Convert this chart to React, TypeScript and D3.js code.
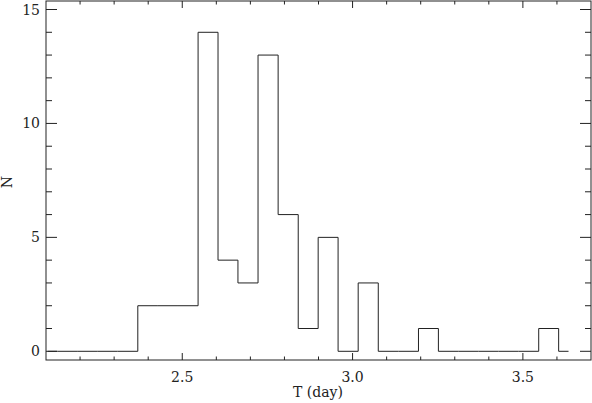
import React, { useRef, useEffect } from 'react';
import * as d3 from 'd3';

// bin centres (T, day) and counts
const binCenters = [
  2.105, 2.164, 2.223, 2.281, 2.340, 2.399, 2.458, 2.517, 2.576, 2.634,
  2.693, 2.752, 2.811, 2.870, 2.928, 2.987, 3.046, 3.105, 3.164, 3.223,
  3.281, 3.340, 3.399, 3.458, 3.517, 3.576, 3.634,
];
const counts = [
  0, 0, 0, 0, 0, 2, 2, 2, 14, 4,
  3, 13, 6, 1, 5, 0, 3, 0, 0, 1,
  0, 0, 0, 0, 0, 1, 0,
];
const xMajor = [2.5, 3.0, 3.5];
const yMajor = [0, 5, 10, 15];

const W = 592;
const H = 403;
const margin = { left: 46, right: 1, top: 1, bottom: 43 };
const ink = '#222';
const font = '"DejaVu Serif", serif';

const App = () => {
  const svgRef = useRef(null);

  useEffect(() => {
    const svg = d3.select(svgRef.current);
    svg.selectAll('*').remove();

    const x = d3.scaleLinear().domain([2.1, 3.7]).range([margin.left, W - margin.right]);
    const y = d3.scaleLinear().domain([0, 15]).range([351.3, 9.5]);
    const x0 = margin.left, x1 = W - margin.right;
    const y0 = H - margin.bottom, y1 = margin.top;

    // histogram steps (pgbin style: half bins at both ends)
    const pts = [];
    pts.push([x(binCenters[0]), y(counts[0])]);
    for (let i = 1; i < binCenters.length; i++) {
      const edge = x((binCenters[i - 1] + binCenters[i]) / 2);
      pts.push([edge, y(counts[i - 1])]);
      pts.push([edge, y(counts[i])]);
    }
    pts.push([x(binCenters[binCenters.length - 1]), y(counts[counts.length - 1])]);

    svg.append('path')
      .attr('d', d3.line()(pts))
      .attr('fill', 'none')
      .attr('stroke', ink)
      .attr('stroke-width', 1);

    // frame
    svg.append('rect')
      .attr('x', x0).attr('y', y1)
      .attr('width', x1 - x0).attr('height', y0 - y1)
      .attr('fill', 'none').attr('stroke', ink).attr('stroke-width', 1);

    const ticks = svg.append('g').attr('stroke', ink).attr('stroke-width', 1);

    // x ticks, bottom and top
    const xMinor = d3.range(22, 37).map(d => d / 10);
    xMinor.forEach(t => {
      const major = xMajor.some(m => Math.abs(m - t) < 1e-6);
      const len = major ? 7 : 3.5;
      const px = x(t);
      ticks.append('line').attr('x1', px).attr('x2', px).attr('y1', y0).attr('y2', y0 - len);
      ticks.append('line').attr('x1', px).attr('x2', px).attr('y1', y1).attr('y2', y1 + len);
    });

    // y ticks, left and right
    d3.range(0, 16).forEach(t => {
      const major = yMajor.includes(t);
      const len = major ? 11 : 6;
      const py = y(t);
      ticks.append('line').attr('x1', x0).attr('x2', x0 + len).attr('y1', py).attr('y2', py);
      ticks.append('line').attr('x1', x1).attr('x2', x1 - len).attr('y1', py).attr('y2', py);
    });

    const labels = svg.append('g')
      .attr('font-family', font)
      .attr('font-size', 14)
      .attr('fill', ink);

    xMajor.forEach(t => {
      labels.append('text')
        .attr('x', x(t)).attr('y', 381.5)
        .attr('text-anchor', 'middle')
        .text(t.toFixed(1));
    });

    yMajor.forEach(t => {
      labels.append('text')
        .attr('x', 40).attr('y', y(t) + 5)
        .attr('text-anchor', 'end')
        .text(t);
    });

    labels.append('text')
      .attr('x', 318).attr('y', 397)
      .attr('text-anchor', 'middle')
      .text('T (day)');

    labels.append('text')
      .attr('transform', `translate(12,182) rotate(-90)`)
      .attr('text-anchor', 'middle')
      .text('N');
  }, []);

  return (
    <svg ref={svgRef} width={W} height={H}
      style={{ position: 'absolute', left: 0, top: 0, background: '#fff' }} />
  );
};

export default App;
